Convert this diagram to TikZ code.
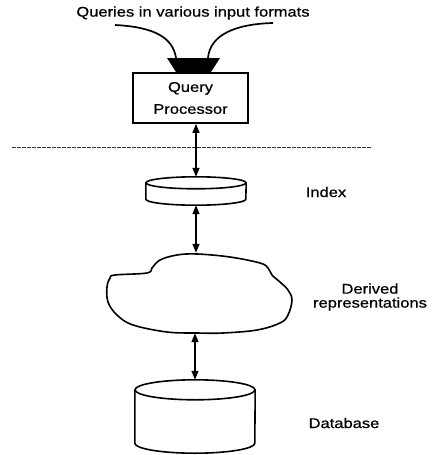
\documentclass[tikz,border=0pt]{standalone}
\usepackage{fontspec}
\setmainfont[FakeStretch=1.18,FakeBold=0.7]{Liberation Sans}
\usepackage{tikz}
\usetikzlibrary{arrows.meta,positioning,shapes.geometric,calc}
\tikzset{
  processor/.style={
    rectangle,
    draw=black,
    line width=1.6pt,
    minimum width=115pt,
    minimum height=50pt,
    align=center,
    inner sep=0pt,
    font=\fontsize{14}{22}\selectfont
  },
  store/.style={
    rectangle,
    inner sep=0pt
  },
  drum/.style={
    draw=black,
    line width=1.6pt
  },
  sidenote/.style={
    align=center,
    inner sep=0pt,
    font=\fontsize{14}{14}\selectfont
  },
  link/.style={
    {Triangle[length=9pt,width=7pt]}-{Triangle[length=9pt,width=7pt]},
    line width=1.4pt
  },
  feed/.style={
    line width=1.7pt
  },
  separator/.style={
    line width=0.8pt,
    dash pattern=on 4pt off 1pt,
    draw=black!80
  }
}

\begin{document}
\begin{tikzpicture}[x=1pt,y=-1pt]
  \useasboundingbox (0,0) rectangle (433,455);
  % input side
  \node[sidenote] (queries) at (193,13) {Queries in various input formats};
  \coordinate (qleft) at (115,25);
  \coordinate (qright) at (273,23);
  \coordinate (inL) at (176,58);
  \coordinate (inR) at (208,58);
  \fill (167,58) -- (220,58) -- (211,72) -- (176,72) -- cycle;
  \draw[feed] (qleft) .. controls (155,27) and (173,38) .. (inL);
  \draw[feed] (qright) .. controls (235,24) and (210,35) .. (inR);
  \node[processor] (qp) at (190.5,98) {Query\\Processor};
  % separator
  \coordinate (sepL) at (12,147);
  \coordinate (sepR) at (372,147);
  \draw[separator] (sepL) -- (sepR);
  % index drum
  \node[store,minimum width=100pt,minimum height=28pt] (idx) at (196,191) {};
  \draw[drum] ($(idx.north west)+(0,6)$) -- ($(idx.south west)+(0,-6)$)
    arc[start angle=180,end angle=0,x radius=50,y radius=6]
    -- ($(idx.north east)+(0,6)$);
  \draw[drum] ($(idx.north)+(0,6)$) ellipse[x radius=50,y radius=6];
  \node[sidenote] (idxlabel) at (326,192) {Index};
  % derived cloud
  \draw[drum] plot[smooth cycle,tension=0.6] coordinates {
    (110,278) (115,275) (147,273) (152,268) (160,260) (177,255) (197,254)
    (230,257) (260,263) (268,268) (272,275) (280,282) (288,290) (292,300)
    (288,315) (280,323) (257,330) (223,333) (197,333) (167,332) (133,325)
    (117,315) (108,302) (107,287)};
  \node[store,minimum width=185pt,minimum height=80pt] (derived) at (200,293) {};
  \node[sidenote] (derivedlabel) at (370,297) {Derived\\representations};
  % database drum
  \node[store,minimum width=120pt,minimum height=73pt] (db) at (195,416.5) {};
  \draw[drum] ($(db.north west)+(0,10)$) -- ($(db.south west)+(0,-10)$)
    arc[start angle=180,end angle=0,x radius=60,y radius=10]
    -- ($(db.north east)+(0,10)$);
  \draw[drum] ($(db.north)+(0,10)$) ellipse[x radius=60,y radius=10];
  \node[sidenote] (dblabel) at (344,423) {Database};
  % links
  \draw[link] (qp.south -| idx.north) -- (idx.north);
  \draw[link] (idx.south) -- (idx.south |- derived.north);
  \draw[link] (db.north |- derived.south) -- (db.north);
\end{tikzpicture}
\end{document}
